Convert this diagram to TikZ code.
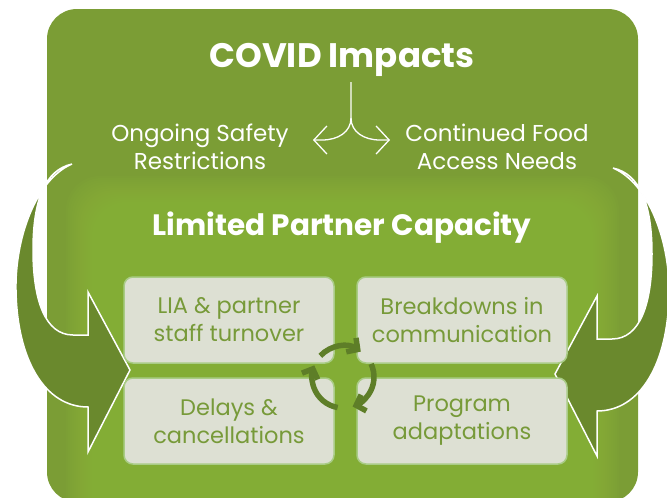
\documentclass[tikz,border=0pt]{standalone}
\usepackage{fontspec}
\setmainfont{Poppins}
\usetikzlibrary{arrows.meta}

\definecolor{outergreen}{HTML}{7B9D35}
\definecolor{glowgreen}{HTML}{8FB93D}
\definecolor{arrowgreen}{HTML}{6A892D}
\definecolor{boxfill}{HTML}{DDE0D3}
\definecolor{boxline}{HTML}{A9CC86}
\definecolor{boxtext}{HTML}{779A39}
\definecolor{cyclegreen}{HTML}{5E7E28}

\begin{document}
\begin{tikzpicture}[x=1pt, y=-1pt,
    heading/.style={text=white, font=\bfseries\fontsize{34}{40}\selectfont},
    subheading/.style={text=white, font=\bfseries\fontsize{29.5}{36}\selectfont},
    sidelabel/.style={text=white, align=center, font=\fontsize{23}{28}\selectfont},
    issue/.style={rounded corners=9pt, fill=boxfill, draw=boxline, line width=1.5pt,
      minimum width=210pt, minimum height=86pt, align=center, text=boxtext,
      font=\fontsize{22.5}{28}\selectfont},
    branch/.style={draw=white, line width=1.3pt, -{Straight Barb[length=13pt,width=28pt]}},
    cyclearrow/.style={draw=cyclegreen, line width=5.5pt, -{Straight Barb[length=8pt,width=17pt]}},
    bendarrow/.pic={
      \filldraw[fill=arrowgreen, draw=white, line width=1.5pt]
        (72,164) .. controls (35,180) and (15,240) .. (16,290)
        .. controls (17,360) and (45,407) .. (88,407)
        -- (88,452) -- (130,370) -- (88,292) -- (88,335) -- (73,335)
        .. controls (45,335) and (33,300) .. (33,250)
        .. controls (33,200) and (45,170) .. (72,164) -- cycle;
    },
  ]
    \clip (0,0) rectangle (667,498);

    % background panel and glow
    \fill[outergreen, rounded corners=30pt] (47,9) rectangle (638,502);
    \foreach \i in {0,...,19}
      \fill[glowgreen, opacity=0.08, rounded corners=34pt]
        (66+2*\i, 176+2*\i) rectangle (619-2*\i, 540);

    \node[heading, anchor=base] (title) at (342,67) {COVID Impacts};
    \node[sidelabel] (safety) at (200,147) {Ongoing Safety\\Restrictions};
    \node[sidelabel] (food) at (497,147) {Continued Food\\Access Needs};

    \coordinate (stem) at (351,82);
    \coordinate (split) at (351,118);
    \coordinate (lefttip) at (313,140);
    \coordinate (righttip) at (390,140);
    \draw[branch] (stem) -- (split) .. controls (351,132) and (338,140) .. (322,140) -- (lefttip);
    \draw[branch] (split) .. controls (351,132) and (364,140) .. (380,140) -- (righttip);

    \pic at (0,0) {bendarrow};
    \pic[xscale=-1] at (685,4) {bendarrow};

    \node[subheading, anchor=base] (capacity) at (342,235) {Limited Partner Capacity};

    \node[issue] (staff) at (229,320) {LIA \& partner\\staff turnover};
    \node[issue] (comm)  at (462,320) {Breakdowns in\\communication};
    \node[issue] (delay) at (229,421) {Delays \&\\cancellations};
    \node[issue] (adapt) at (462,421) {Program\\adaptations};

    % cycle in the middle
    \begin{scope}[shift={(343,377)}, yscale=-1]
      \draw[cyclearrow] (137:31) arc[start angle=137, end angle=55, radius=31];
      \draw[cyclearrow] (25:31) arc[start angle=25, end angle=-72, radius=31];
      \draw[cyclearrow] (-100:31) arc[start angle=-100, end angle=-202, radius=31];
    \end{scope}
  \end{tikzpicture}
\end{document}
